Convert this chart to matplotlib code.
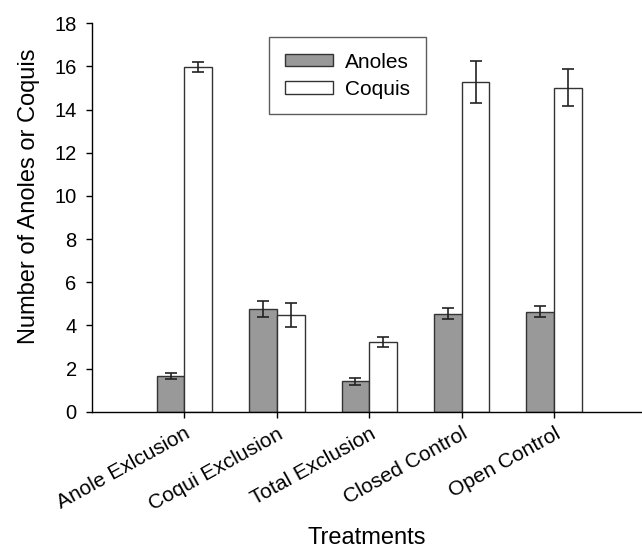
import matplotlib
matplotlib.use("Agg")
import matplotlib.pyplot as plt
import numpy as np

plt.rcParams["font.family"] = ["Liberation Sans", "DejaVu Sans"]

treatments = ["Anole Exlcusion", "Coqui Exclusion", "Total Exclusion",
              "Closed Control", "Open Control"]
anoles = [1.66, 4.76, 1.40, 4.54, 4.63]
anoles_err = [0.13, 0.36, 0.18, 0.26, 0.26]
coquis = [15.96, 4.48, 3.24, 15.28, 15.02]
coquis_err = [0.24, 0.54, 0.24, 0.96, 0.85]

x = np.arange(len(treatments))
width = 0.3

fig = plt.figure(figsize=(6.42, 5.52), dpi=100)
ax = fig.add_axes([0.1433, 0.2542, 0.8567, 0.7036])

err_kw = dict(ecolor="#222222", elinewidth=1.2, capsize=4, capthick=1.2)
ax.bar(x - width / 2, anoles, width, yerr=anoles_err, color="#999999",
       edgecolor="#333333", linewidth=1.0, label="Anoles", error_kw=err_kw)
ax.bar(x + width / 2, coquis, width, yerr=coquis_err, color="white",
       edgecolor="#333333", linewidth=1.0, label="Coquis", error_kw=err_kw)

ax.set_xlim(-1.0, 4.95)
ax.set_ylim(0, 18)
ax.set_yticks(np.arange(0, 19, 2))
ax.set_xticks(x)
ax.set_xticklabels(treatments, rotation=29, ha="right", rotation_mode="anchor")

for side in ["top", "right"]:
    ax.spines[side].set_visible(False)
ax.spines["left"].set_linewidth(1.0)
ax.spines["bottom"].set_linewidth(1.0)
ax.tick_params(axis="y", direction="out", length=4, width=1.0, pad=7, labelsize=14.5)
ax.tick_params(axis="x", direction="out", length=4, width=1.0, pad=5, labelsize=15)

ax.set_ylabel("Number of Anoles or Coquis", fontsize=17)
ax.yaxis.set_label_coords(-0.095, 0.555)
ax.set_xlabel("Treatments", fontsize=17, labelpad=10)

leg = ax.legend(loc="upper left", bbox_to_anchor=(0.322, 0.965), fontsize=15,
                frameon=True, fancybox=False, edgecolor="#333333",
                handlelength=2.3, handleheight=0.55, borderpad=0.75,
                borderaxespad=0, labelspacing=0.4, handletextpad=0.6)
leg.get_frame().set_linewidth(1.0)

fig.savefig("out.png", dpi=100)
